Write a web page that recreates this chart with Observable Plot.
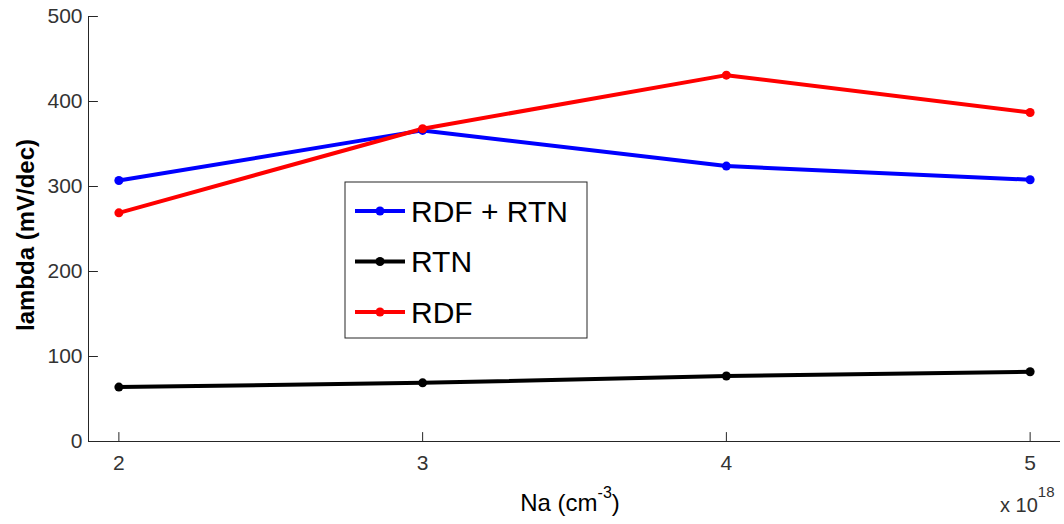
<!DOCTYPE html>
<html><head><meta charset="utf-8">
<script src="https://cdn.jsdelivr.net/npm/d3@7"></script>
<script src="https://cdn.jsdelivr.net/npm/@observablehq/plot@0.6"></script>
<style>body{margin:0;background:#fff} svg{font-family:"Liberation Sans",Arial,sans-serif}</style>
</head><body><div id="chart"></div>
<script>
const na = [2, 3, 4, 5];
const rdfRtn = [307, 366, 324, 308];
const rtn = [64, 69, 77, 82];
const rdf = [269, 368, 431, 387];
const seriesNames = ["RDF + RTN", "RTN", "RDF"];
const seriesColors = ["#0000ff", "#000000", "#ff0000"];
const xTicks = [2, 3, 4, 5];
const yTicks = [0, 100, 200, 300, 400, 500];
const xLabel = ["Na (cm", "-3", ")"];
const yLabel = "lambda (mV/dec)";
const xExponent = ["x 10", "18"];

const rows = [];
[rdfRtn, rtn, rdf].forEach((vals, s) =>
  vals.forEach((v, i) => rows.push({series: seriesNames[s], na: na[i], lambda: v})));

const axisColor = "#262626";
const tickShape = {draw(context, l) { context.moveTo(0, 0); context.lineTo(0, -l); }};
const chart = Plot.plot({
  width: 1064, height: 524,
  marginLeft: 88, marginRight: 4, marginTop: 16, marginBottom: 83,
  style: {fontFamily: '"Liberation Sans", Arial, sans-serif', fontSize: "21px", background: "#fff", overflow: "visible"},
  x: {domain: [1.9, 5.1]},
  y: {domain: [0, 500]},
  color: {domain: seriesNames, range: seriesColors},
  marks: [
    Plot.ruleY([0], {stroke: axisColor}),
    Plot.ruleX([1.9], {stroke: axisColor}),
    Plot.axisX(xTicks, {tickSize: 0, tickPadding: 14, fill: "#333", label: null, tickFormat: d => String(d)}),
    Plot.axisY(yTicks, {tickSize: 0, tickPadding: 6, fill: "#333", label: null, tickFormat: d => String(d)}),
    Plot.vector(xTicks, {x: d => d, y: 0, length: 9, rotate: 0, anchor: "start", shape: tickShape, stroke: axisColor, strokeWidth: 1}),
    Plot.vector(yTicks, {x: 1.9, y: d => d, length: 9, rotate: 90, anchor: "start", shape: tickShape, stroke: axisColor, strokeWidth: 1}),
    Plot.line(rows, {x: "na", y: "lambda", z: "series", stroke: "series", strokeWidth: 4}),
    Plot.dot(rows, {x: "na", y: "lambda", fill: "series", r: 4.5})
  ]
});
document.getElementById("chart").append(chart);

const svg = d3.select(chart);
// y label
svg.append("text")
  .attr("transform", "translate(25,235) rotate(-90)")
  .attr("text-anchor", "middle").attr("dominant-baseline", "central")
  .attr("font-size", 24).attr("font-weight", "bold").attr("fill", "#000")
  .text(yLabel);
// x label
const xl = svg.append("text").attr("x", 570).attr("y", 511)
  .attr("text-anchor", "middle").attr("font-size", 24).attr("fill", "#000");
xl.append("tspan").text(xLabel[0]);
xl.append("tspan").attr("font-size", 16).attr("dy", -13).text(xLabel[1]);
xl.append("tspan").attr("dy", 13).text(xLabel[2]);
// exponent
const xe = svg.append("text").attr("x", 1000).attr("y", 512).attr("text-anchor", "start")
  .attr("font-size", 20).attr("fill", "#333");
xe.append("tspan").text(xExponent[0]);
xe.append("tspan").attr("font-size", 15).attr("dy", -15).text(xExponent[1]);
// legend
const lg = svg.append("g");
lg.append("rect").attr("x", 345).attr("y", 182).attr("width", 242).attr("height", 156)
  .attr("fill", "#fff").attr("stroke", axisColor);
seriesNames.forEach((name, i) => {
  const cy = 211 + i * 50.5;
  lg.append("line").attr("x1", 355).attr("x2", 405).attr("y1", cy).attr("y2", cy)
    .attr("stroke", seriesColors[i]).attr("stroke-width", 4);
  lg.append("circle").attr("cx", 380).attr("cy", cy).attr("r", 4.5).attr("fill", seriesColors[i]);
  lg.append("text").attr("x", 411).attr("y", cy).attr("dy", "0.36em").attr("text-anchor", "start")
    .attr("font-size", 30).attr("fill", "#000").text(name);
});
</script>
</body></html>
